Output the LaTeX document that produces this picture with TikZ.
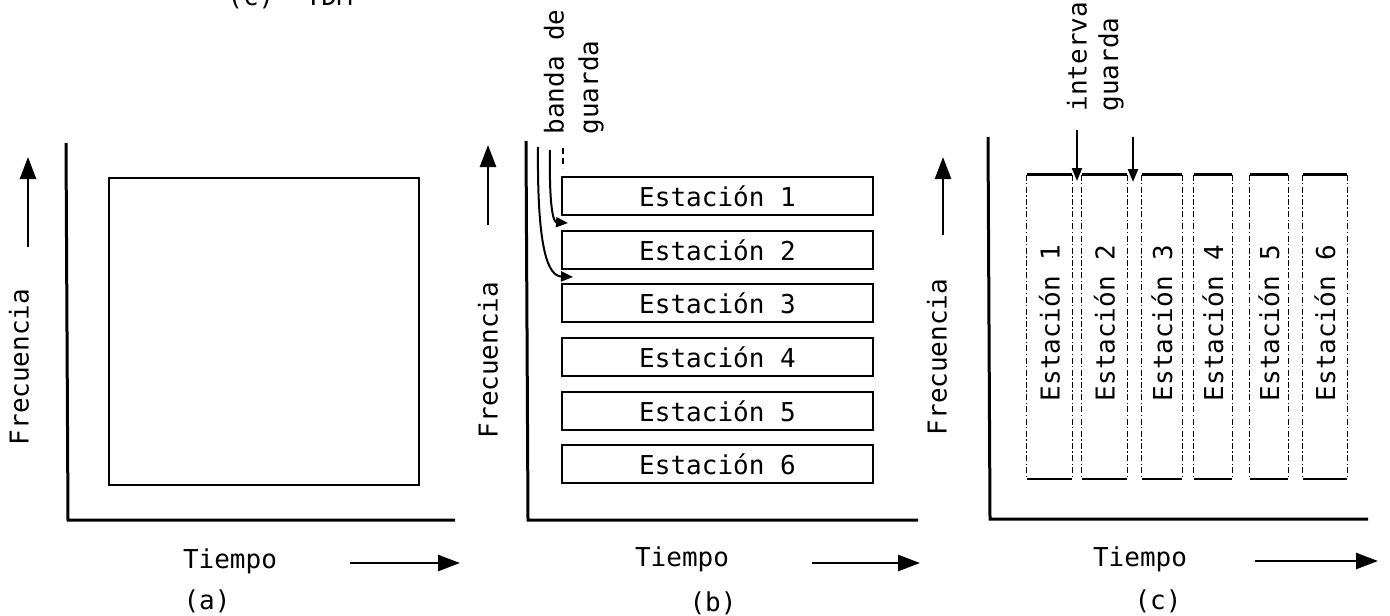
\documentclass[tikz,border=0pt]{standalone}
\usepackage{fontspec}
\setmainfont{DejaVu Sans Mono}
\usetikzlibrary{arrows.meta}
\begin{document}
\begin{tikzpicture}[x=0.5pt,y=-0.5pt,
  every node/.style={font=\fontsize{13}{15}\selectfont, inner sep=0pt},
  axisline/.style={line width=1.5pt},
  framebox/.style={draw, line width=1.3pt},
  stbox/.style={draw, line width=1pt, minimum width=155.5pt, minimum height=19pt},
  colcell/.style={minimum width=#1, minimum height=152pt},
  coltop/.style={line width=1.6pt},
  colbot/.style={line width=1pt},
  colside/.style={line width=0.6pt, dash pattern=on 3pt off 1.2pt on 0.7pt off 1.2pt},
  dirarrow/.style={line width=1.3pt, -{Triangle[length=11pt,width=8pt]}},
  guardarrow/.style={line width=1.1pt, -{Triangle[length=6.5pt,width=5pt]}},
  bandarrow/.style={line width=1pt, -{Triangle[length=6pt,width=5pt]}},
  vlabel/.style={rotate=90},
]
\fill[white] (0,0) rectangle (1390,615);
\useasboundingbox (0,0) rectangle (1390,615);

% cut caption of the previous figure (cut off at the top edge, as in the reference)
\node[anchor=base west] (prevcap) at (227,6) {(c)\ \ TDM};

% ---------------- panel (a) ----------------
\coordinate (aytop) at (66,143);
\coordinate (aorig) at (68,520);
\coordinate (axend) at (455,520);
\draw[axisline] (aytop) -- (aorig) -- (axend);
\node[framebox, minimum width=155pt, minimum height=153.5pt] (arect) at (264,331.5) {};
\node[vlabel] (afreq) at (19,367) {Frecuencia};
\coordinate (aupS) at (28,247);
\coordinate (aupE) at (28,157);
\draw[dirarrow] (aupS) -- (aupE);
\node (atime) at (230,561) {Tiempo};
\coordinate (artS) at (350,563);
\coordinate (artE) at (460,563);
\draw[dirarrow] (artS) -- (artE);
\node (acap) at (207,601) {(a)};

% ---------------- panel (b) ----------------
\coordinate (bytop) at (526,141);
\coordinate (borig) at (528,520);
\coordinate (bxend) at (918,520);
\draw[axisline] (bytop) -- (borig) -- (bxend);
\foreach \n/\cy in {1/196,2/250,3/303,4/357,5/411,6/464}{
  \node[stbox] (bst\n) at (717.5,\cy) {Estación \n};
}
\node[vlabel] (bfreq) at (488,360) {Frecuencia};
\coordinate (bupS) at (488,225);
\coordinate (bupE) at (488,145);
\draw[dirarrow] (bupS) -- (bupE);
\node (btime) at (682,559) {Tiempo};
\coordinate (brtS) at (812,563);
\coordinate (brtE) at (920,563);
\draw[dirarrow] (brtS) -- (brtE);
\node (bcap) at (713,603) {(b)};
\node[vlabel, anchor=west] (bband) at (554,135) {banda de};
\node[vlabel, anchor=west] (bguarda) at (591,135) {guarda};
\coordinate (g1S) at (550,150);
\coordinate (g1E) at (568,223);
\coordinate (g2S) at (538,147);
\coordinate (g2E) at (573,277);
\draw[bandarrow] (g1S) .. controls (549,205) and (553,222) .. (g1E);
\draw[bandarrow] (g2S) .. controls (537,250) and (548,276) .. (g2E);
\coordinate (tickS) at (563,148);
\coordinate (tickE) at (563,168);
\draw[line width=0.6pt, densely dashed] (tickS) -- (tickE);

% ---------------- panel (c) ----------------
\coordinate (cytop) at (988,137);
\coordinate (corig) at (990,519);
\coordinate (cxend) at (1368,519);
\draw[axisline] (cytop) -- (corig) -- (cxend);
\foreach \n/\cx/\w in {1/1049.5/22.5pt,2/1104.5/22.5pt,3/1162/20pt,4/1213/19pt,5/1269/19pt,6/1325/22pt}{
  \node[colcell=\w] (col\n) at (\cx,327) {};
  \draw[coltop] (col\n.north west) -- (col\n.north east);
  \draw[colbot] (col\n.south west) -- (col\n.south east);
  \draw[colside] (col\n.north west) -- (col\n.south west);
  \draw[colside] (col\n.north east) -- (col\n.south east);
  \node[vlabel] (clab\n) at (\cx,323) {Estación \n};
}
\node[vlabel] (cfreq) at (937,357) {Frecuencia};
\coordinate (cupS) at (943,235);
\coordinate (cupE) at (943,157);
\draw[dirarrow] (cupS) -- (cupE);
\node (ctime) at (1140,559) {Tiempo};
\coordinate (crtS) at (1255,561);
\coordinate (crtE) at (1378,561);
\draw[dirarrow] (crtS) -- (crtE);
\node (ccap) at (1158,601) {(c)};
\node[vlabel, anchor=west] (cint) at (1077,112) {interva};
\node[vlabel, anchor=west] (cguarda) at (1111,112) {guarda};
\coordinate (ia1S) at (1077,130);
\coordinate (ia1E) at (1077,181);
\coordinate (ia2S) at (1133,137);
\coordinate (ia2E) at (1133,182);
\draw[guardarrow] (ia1S) -- (ia1E);
\draw[guardarrow] (ia2S) -- (ia2E);
\end{tikzpicture}
\end{document}
